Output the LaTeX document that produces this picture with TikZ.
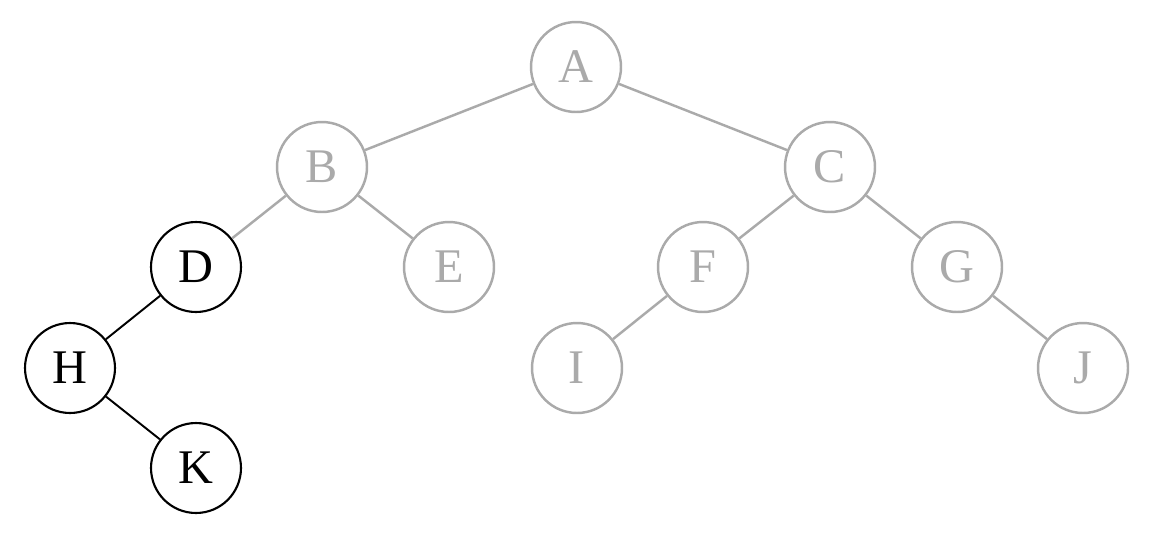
\documentclass[tikz,border=0pt]{standalone}
\usepackage{fontspec}
\setmainfont{Liberation Serif}
\definecolor{faded}{HTML}{AAAAAA}
\begin{document}
\begin{tikzpicture}[x=0.02cm,y=-0.02cm,
  vert/.style={circle,draw,line width=1.2pt,minimum size=1.8cm,inner sep=0pt,font=\fontsize{27.5}{30}\selectfont},
  dim/.style={vert,draw=faded,text=faded,line width=1.4pt},
  dimedge/.style={draw=faded,line width=1.4pt},
  edge/.style={draw=black,line width=1.1pt}]
\useasboundingbox (0,0) rectangle (1152,535);
\node[dim] (A) at (576,67) {A};
\node[dim] (B) at (322,167) {B};
\node[dim] (C) at (830,167) {C};
\node[vert] (D) at (196,267) {D};
\node[dim] (E) at (449,267) {E};
\node[dim] (F) at (703,267) {F};
\node[dim] (G) at (957,267) {G};
\node[vert] (H) at (70,368) {H};
\node[dim] (I) at (577,368) {I};
\node[dim] (J) at (1083,368) {J};
\node[vert] (K) at (196,468) {K};
\draw[dimedge] (A) -- (B);
\draw[dimedge] (A) -- (C);
\draw[dimedge] (B) -- (D);
\draw[dimedge] (B) -- (E);
\draw[dimedge] (C) -- (F);
\draw[dimedge] (C) -- (G);
\draw[dimedge] (F) -- (I);
\draw[dimedge] (G) -- (J);
\draw[edge] (D) -- (H);
\draw[edge] (H) -- (K);
\end{tikzpicture}
\end{document}
